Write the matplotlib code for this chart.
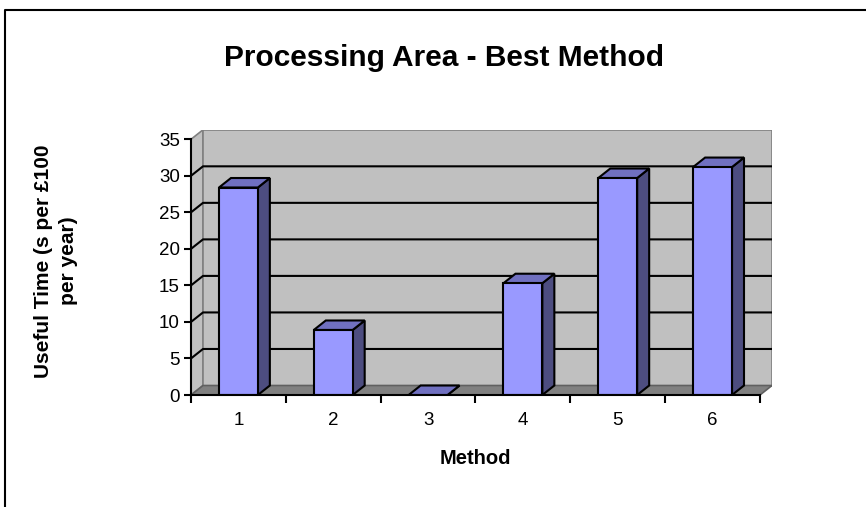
import numpy as np
import matplotlib
matplotlib.use('Agg')
from matplotlib import pyplot as plt
from matplotlib.patches import Polygon
from matplotlib.lines import Line2D

plt.rcParams['font.family'] = ['Liberation Sans', 'DejaVu Sans']

# data
methods = [1, 2, 3, 4, 5, 6]
useful_time = [28.4, 8.9, 0.0, 15.3, 29.7, 31.2]
y_ticks = [0, 5, 10, 15, 20, 25, 30, 35]

title = 'Processing Area - Best Method'
x_label = 'Method'
y_label = 'Useful Time (s per £100\nper year)'

W, H = 866, 507
px_x = 94.83          # pixels per category
px_y = 7.306          # pixels per unit
dx = 12 / px_x        # depth offset of the 3d effect, in data units
dy = 9.5 / px_y
ymax = 35
bar_w = 0.41

fig = plt.figure(figsize=(W / 100, H / 100), dpi=100)
fig.patch.set_facecolor('white')

x0, x1 = 0.5, len(methods) + 0.5
ax = fig.add_axes([191 / W, 112 / H, (x1 - x0 + dx) * px_x / W, (ymax + dy) * px_y / H])
ax.set_xlim(x0, x1 + dx)
ax.set_ylim(0, ymax + dy)
ax.patch.set_visible(False)

wall = '#C0C0C0'
edge = '#808080'

# left wall, floor, back wall
ax.add_patch(Polygon([(x0, 0), (x0 + dx, dy), (x0 + dx, ymax + dy), (x0, ymax)],
                     closed=True, fc=wall, ec=edge, lw=1.2, zorder=1))
ax.add_patch(Polygon([(x0 + dx, dy), (x1 + dx, dy), (x1 + dx, ymax + dy), (x0 + dx, ymax + dy)],
                     closed=True, fc=wall, ec=edge, lw=1.2, zorder=1))
ax.add_patch(Polygon([(x0, 0), (x1, 0), (x1 + dx, dy), (x0 + dx, dy)],
                     closed=True, fc='#808080', ec='#606060', lw=1.2, zorder=1))

# gridlines on side wall and back wall
for t in y_ticks[1:-1]:
    ax.plot([x0, x0 + dx, x1 + dx], [t, t + dy, t + dy], color='black', lw=1.5, zorder=2)

# bars
for m, v in zip(methods, useful_time):
    l, r = m - bar_w / 2, m + bar_w / 2
    side = [(r, 0), (r + dx, dy), (r + dx, v + dy), (r, v)]
    top = [(l, v), (r, v), (r + dx, v + dy), (l + dx, v + dy)]
    front = [(l, 0), (r, 0), (r, v), (l, v)]
    ax.add_patch(Polygon(side, closed=True, fc='#4D4D80', ec='black', lw=1.5, zorder=3))
    ax.add_patch(Polygon(top, closed=True, fc='#7070C0', ec='black', lw=1.5, zorder=3))
    if v > 0:
        ax.add_patch(Polygon(front, closed=True, fc='#9999FF', ec='black', lw=1.5, zorder=4))

for s in ['top', 'right']:
    ax.spines[s].set_visible(False)
ax.spines['left'].set_bounds(0, ymax)
ax.spines['bottom'].set_bounds(x0, x1)
ax.spines['left'].set_linewidth(1.5)
ax.spines['bottom'].set_linewidth(1.5)
ax.spines['left'].set_zorder(5)
ax.spines['bottom'].set_zorder(5)

ax.set_yticks(y_ticks)
ax.set_yticklabels([str(t) for t in y_ticks], fontsize=13.5)
ax.set_xticks(np.arange(x0, x1 + 0.01, 1))
ax.set_xticklabels([])
ax.set_xticks(methods, minor=True)
ax.set_xticklabels([str(m) for m in methods], minor=True, fontsize=13.5)
ax.tick_params(axis='y', direction='out', length=5, width=1.5, pad=3)
ax.tick_params(axis='x', which='major', direction='out', length=6, width=1.5)
ax.tick_params(axis='x', which='minor', length=0, pad=12)

fig.text(444 / W, 1 - 58 / H, title, fontsize=21.5, fontweight='bold', ha='center', va='center')
fig.text(475 / W, 1 - 458 / H, x_label, fontsize=14.5, fontweight='bold', ha='center', va='center')
fig.text(56 / W, 1 - 261 / H, y_label, fontsize=15, fontweight='bold', ha='center', va='center',
         rotation=90, multialignment='center', linespacing=1.4)

# outer chart border
fig.add_artist(Line2D([5 / W, 5 / W, 1.0], [0.0, 1 - 10 / H, 1 - 10 / H],
                      transform=fig.transFigure, color='black', lw=1.5))

fig.savefig('out.png', dpi=100)
